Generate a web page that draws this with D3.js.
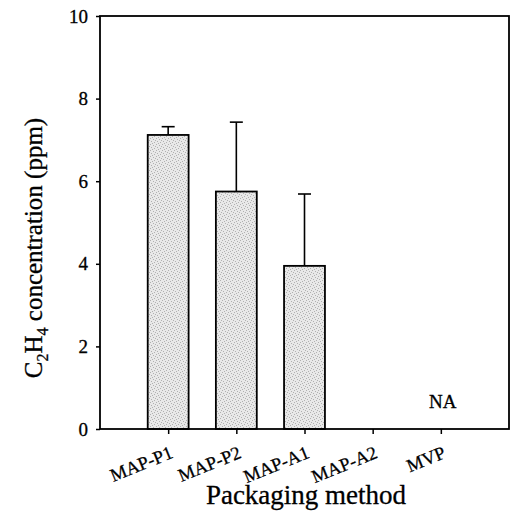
<!DOCTYPE html>
<html>
<head>
<meta charset="utf-8">
<script src="https://cdn.jsdelivr.net/npm/d3@7"></script>
<style>
  body { margin: 0; background: #fff; }
  svg { display: block; font-family: "Liberation Serif", "Times New Roman", serif; }
</style>
</head>
<body>
<svg id="chart"></svg>
<script>
// data
const categories = ["MAP-P1", "MAP-P2", "MAP-A1", "MAP-A2", "MVP"];
const means = [7.12, 5.75, 3.95, null, null];
const upperErr = [7.32, 7.43, 5.69, null, null];
const notes = [null, null, null, null, "NA"];
const yTicks = [0, 2, 4, 6, 8, 10];

const W = 510, H = 516;
const margin = {top: 16, right: 1, bottom: 87, left: 100};

const svg = d3.select("#chart").attr("width", W).attr("height", H);

const x = d3.scaleLinear()
    .domain([0, categories.length + 1])
    .range([margin.left, W - margin.right]);
const y = d3.scaleLinear()
    .domain([0, 10])
    .range([H - margin.bottom, margin.top]);

const step = x(1) - x(0);
const barW = step * 0.6;

// stipple pattern for bars
const defs = svg.append("defs");
const pat = defs.append("pattern")
    .attr("id", "stip")
    .attr("width", 6).attr("height", 6)
    .attr("patternUnits", "userSpaceOnUse");
pat.append("rect").attr("width", 6).attr("height", 6).attr("fill", "#e8e8e8");
[[0, 0], [3, 1], [1, 3], [4, 4], [2, 5], [5, 2]].forEach(p => {
    pat.append("rect").attr("x", p[0]).attr("y", p[1]).attr("width", 1).attr("height", 1).attr("fill", "#b0b0b0");
});

const data = categories.map((c, i) => ({cat: c, i: i + 1, v: means[i], e: upperErr[i], note: notes[i]}));

// error bars (upper only)
const eb = svg.append("g").attr("stroke", "#000").attr("stroke-width", 1.6);
data.filter(d => d.v != null).forEach(d => {
    eb.append("line").attr("x1", x(d.i)).attr("x2", x(d.i)).attr("y1", y(d.v)).attr("y2", y(d.e));
    eb.append("line").attr("x1", x(d.i) - 6.5).attr("x2", x(d.i) + 6.5).attr("y1", y(d.e)).attr("y2", y(d.e));
});

// bars
svg.append("g")
    .selectAll("rect")
    .data(data.filter(d => d.v != null))
    .join("rect")
    .attr("x", d => x(d.i) - barW / 2)
    .attr("y", d => y(d.v))
    .attr("width", barW)
    .attr("height", d => y(0) - y(d.v))
    .attr("fill", "url(#stip)")
    .attr("stroke", "#000")
    .attr("stroke-width", 1.8);

// NA notes
svg.append("g")
    .selectAll("text")
    .data(data.filter(d => d.note))
    .join("text")
    .attr("x", d => x(d.i) + 2)
    .attr("y", y(0) - 21)
    .attr("text-anchor", "middle")
    .attr("font-size", 19)
    .attr("stroke", "#000").attr("stroke-width", 0.3)
    .text(d => d.note);

// frame
svg.append("rect")
    .attr("x", margin.left).attr("y", margin.top)
    .attr("width", W - margin.right - margin.left)
    .attr("height", y(0) - margin.top)
    .attr("fill", "none").attr("stroke", "#000").attr("stroke-width", 1.8);

// y axis
const yAxis = svg.append("g")
    .attr("transform", `translate(${margin.left},0)`)
    .call(d3.axisLeft(y).tickValues(yTicks).tickSize(4).tickPadding(8).tickFormat(d3.format("d")));
yAxis.select(".domain").remove();
yAxis.selectAll("line").attr("stroke-width", 1.5);
yAxis.selectAll("text").attr("font-size", 19).attr("font-family", "Liberation Serif")
    .attr("fill", "#000").attr("stroke", "#000").attr("stroke-width", 0.3);

// x axis ticks
const xAxis = svg.append("g")
    .attr("transform", `translate(0,${y(0)})`)
    .call(d3.axisBottom(x).tickValues(data.map(d => d.i)).tickSize(5).tickFormat(""));
xAxis.select(".domain").remove();
xAxis.selectAll("line").attr("stroke-width", 1.5);

// rotated category labels
svg.append("g")
    .selectAll("text")
    .data(data)
    .join("text")
    .attr("transform", d => `translate(${x(d.i) + 1},${y(0) + 16}) rotate(-22)`)
    .attr("text-anchor", "end")
    .attr("dy", "0.72em")
    .attr("font-size", 18.5)
    .attr("stroke", "#000").attr("stroke-width", 0.3)
    .text(d => d.cat);

// axis titles
svg.append("text")
    .attr("x", 306)
    .attr("y", 504)
    .attr("text-anchor", "middle")
    .attr("font-size", 27)
    .attr("stroke", "#000").attr("stroke-width", 0.3)
    .text("Packaging method");

const yt = svg.append("text")
    .attr("transform", `translate(42,248) rotate(-90)`)
    .attr("text-anchor", "middle")
    .attr("font-size", 25)
    .attr("stroke", "#000").attr("stroke-width", 0.3);
yt.append("tspan").text("C");
yt.append("tspan").attr("font-size", 16).attr("dy", 6).text("2");
yt.append("tspan").attr("dy", -6).text("H");
yt.append("tspan").attr("font-size", 16).attr("dy", 6).text("4");
yt.append("tspan").attr("dy", -6).text(" concentration (ppm)");
</script>
</body>
</html>
